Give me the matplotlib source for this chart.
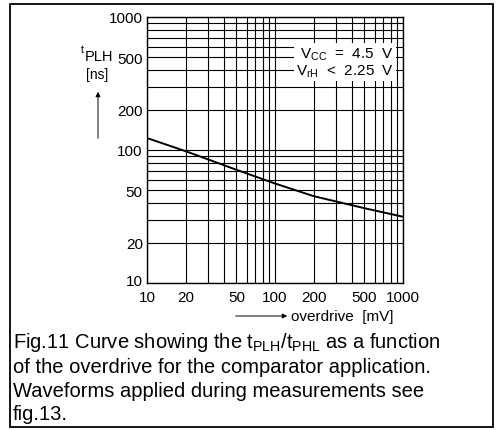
import numpy as np
import matplotlib
matplotlib.use("Agg")
import matplotlib.pyplot as plt
from matplotlib.ticker import FixedLocator, NullFormatter, LogLocator
from matplotlib.patches import Rectangle, FancyArrowPatch
import matplotlib.transforms as mtransforms

plt.rcParams['font.family'] = ['Liberation Sans', 'DejaVu Sans']

# values
overdrive = [10, 20, 50, 100, 200, 500, 1000]      # mV
t_plh = [123, 98, 71, 56, 45, 36.5, 31.5]           # ns
x_ticks = [10, 20, 50, 100, 200, 500, 1000]
y_ticks = [10, 20, 50, 100, 200, 500, 1000]

fig = plt.figure(figsize=(4.96, 4.31), dpi=100)
ax = fig.add_axes([147/496, 1-284/431, 256/496, 266/431])

ax.set_xscale('log')
ax.set_yscale('log')
ax.set_xlim(10, 1000)
ax.set_ylim(10, 1000)

ax.xaxis.set_major_locator(FixedLocator(x_ticks))
ax.yaxis.set_major_locator(FixedLocator(y_ticks))
ax.set_xticklabels([str(v) for v in x_ticks])
ax.set_yticklabels([str(v) for v in y_ticks])
ax.xaxis.set_minor_locator(LogLocator(base=10, subs=np.arange(1, 10)))
ax.yaxis.set_minor_locator(LogLocator(base=10, subs=np.arange(1, 10)))
ax.xaxis.set_minor_formatter(NullFormatter())
ax.yaxis.set_minor_formatter(NullFormatter())
ax.tick_params(which='both', length=0, labelsize=11, pad=3)
ax.tick_params(axis='x', pad=5)
ax.grid(which='both', color='black', lw=0.8)
ax.set_axisbelow(True)
for s in ax.spines.values():
    s.set_linewidth(1.0)

# lift the lowest y label a little, as in the original
lbl = ax.get_yticklabels()[0]
lbl.set_transform(lbl.get_transform() + mtransforms.ScaledTranslation(0, 3/100, fig.dpi_scale_trans))

ax.plot(overdrive, t_plh, color='black', lw=1.4, zorder=3)

# condition text box
ax.text(0.965, 0.83, '$\\mathregular{V_{CC}}$  =  4.5  V\n$\\mathregular{V_{rH}}$  <  2.25  V',
        transform=ax.transAxes, ha='right', va='center', fontsize=11,
        linespacing=1.1, zorder=4,
        bbox=dict(facecolor='white', edgecolor='none', pad=1.5))

# y label with arrow
fig.text(82/496, 1-50/431, 't', ha='center', va='center', fontsize=7.5)
fig.text(85/496, 1-57/431, 'PLH', ha='left', va='center', fontsize=10.5)
fig.text(97/496, 1-75/431, '[ns]', ha='center', va='center', fontsize=10)
fig.add_artist(FancyArrowPatch(
    (98/496, 1-142/431), (98/496, 1-90/431), transform=fig.transFigure,
    arrowstyle='-|>', mutation_scale=7, lw=0.7, color='black'))

# x label with arrow
fig.add_artist(FancyArrowPatch(
    (233/496, 1-317/431), (290/496, 1-317/431), transform=fig.transFigure,
    arrowstyle='-|>', mutation_scale=7, lw=0.7, color='black'))
fig.text(291/496, 1-317/431, 'overdrive  [mV]', ha='left', va='center', fontsize=11)

# caption
caption = ('Fig.11 Curve showing the $\\mathregular{t_{PLH}/t_{PHL}}$ as a function\n'
           'of the overdrive for the comparator application.\n'
           'Waveforms applied during measurements see\n'
           'fig.13.')
fig.text(13/496, 1-331/431, caption, ha='left', va='top', fontsize=14.5, linespacing=1.29)

# outer frame
fig.add_artist(Rectangle((10/496, 1-428/431), 483/496, 423/431, transform=fig.transFigure,
                         fill=False, edgecolor='black', lw=1.3))

fig.savefig('out.png', dpi=100)
